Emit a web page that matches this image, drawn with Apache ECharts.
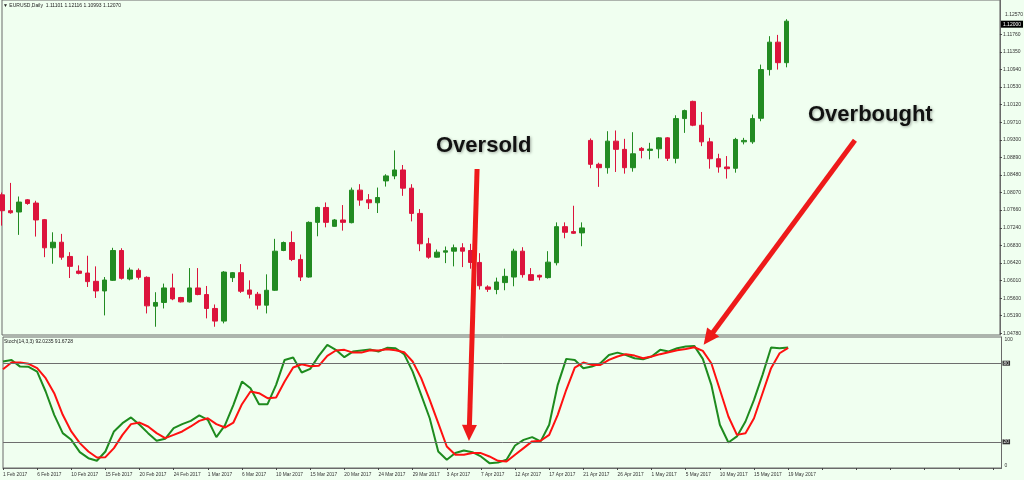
<!DOCTYPE html>
<html><head><meta charset="utf-8">
<script src="https://cdn.jsdelivr.net/npm/echarts@6/dist/echarts.min.js"></script>
<style>html,body{margin:0;padding:0;background:#F0FFF0}#c{width:1024px;height:480px}</style>
</head><body><div id="c"></div>
<script>
const symbolTitle = 'EURUSD,Daily';
const stochTitle = 'Stoch(14,3,3)';
// OHLC (index 0 = 1 Feb 2017, Sunday bars included)
const opens  = [1.08014,1.07643,1.07613,1.07898,1.07822,1.07434,1.06777,1.06907,1.06575,1.06233,
1.06187,1.05994,1.05769,1.06017,1.06714,1.06048,1.06250,1.06087,1.05414,1.05500,
1.05839,1.05616,1.05514,1.05839,1.05685,1.05360,1.05065,1.06080,1.06196,1.05792,
1.05692,1.05437,1.05785,1.06714,1.06900,1.06505,1.06094,1.07371,1.07719,1.07278,
1.07427,1.07364,1.08124,1.07898,1.07829,1.08339,1.08456,1.08595,1.08170,1.07580,
1.06870,1.06558,1.06675,1.06698,1.06777,1.06714,1.06435,1.05862,1.05802,1.05964,
1.06094,1.06698,1.06150,1.06134,1.06080,1.06428,1.07271,1.07155,1.07125,1.09285,
1.08727,1.08648,1.09268,1.09076,1.08648,1.09099,1.09052,1.09089,1.09345,1.08867,
1.09795,1.10197,1.09640,1.09252,1.08857,1.08665,1.08634,1.09252,1.09252,1.09802,
1.10940,1.11580,1.11101];
const highs  = [1.08068,1.08293,1.07975,1.07915,1.07875,1.07450,1.07139,1.07102,1.06675,1.06366,
1.06591,1.06343,1.06094,1.06777,1.06767,1.06312,1.06296,1.06110,1.05739,1.05941,
1.06173,1.05630,1.06303,1.06303,1.05885,1.05453,1.06233,1.06210,1.06396,1.06017,
1.05746,1.06157,1.06986,1.06923,1.07162,1.06621,1.07394,1.07736,1.07836,1.07450,
1.07775,1.08184,1.08263,1.08031,1.08184,1.08495,1.09052,1.08711,1.08263,1.07682,
1.07009,1.06737,1.06807,1.06853,1.06884,1.06870,1.06651,1.05901,1.06080,1.06289,
1.06754,1.06791,1.06303,1.06150,1.06698,1.07371,1.07371,1.07759,1.07371,1.09331,
1.08764,1.09500,1.09517,1.09322,1.09477,1.09129,1.09229,1.09361,1.09361,1.09872,
1.10004,1.10213,1.09949,1.09345,1.08973,1.08920,1.09345,1.09345,1.09888,1.11056,
1.11720,1.11750,1.12116];
const lows   = [1.07295,1.07573,1.07079,1.07782,1.07039,1.06558,1.06405,1.06498,1.06071,1.06157,
1.05862,1.05606,1.05198,1.06001,1.06034,1.06017,1.06034,1.05244,1.04933,1.05360,
1.05553,1.05500,1.05500,1.05669,1.05128,1.04933,1.05012,1.05978,1.05723,1.05593,
1.05337,1.05244,1.05769,1.06698,1.06466,1.06001,1.06080,1.07046,1.07255,1.07271,
1.07178,1.07348,1.07759,1.07682,1.07589,1.08207,1.08379,1.07991,1.07394,1.06698,
1.06521,1.06545,1.06419,1.06343,1.06326,1.06289,1.05802,1.05746,1.05692,1.05785,
1.05878,1.06080,1.06001,1.06017,1.06057,1.06366,1.06999,1.07102,1.06814,1.08634,
1.08200,1.08509,1.08548,1.08509,1.08555,1.08867,1.08843,1.08867,1.08804,1.08750,
1.09461,1.09617,1.09152,1.08625,1.08532,1.08393,1.08532,1.09192,1.09206,1.09733,
1.10800,1.10940,1.10993];
const closes = [1.07643,1.07596,1.07845,1.07812,1.07427,1.06777,1.06907,1.06558,1.06343,1.06180,
1.05987,1.05769,1.06024,1.06714,1.06064,1.06257,1.06087,1.05421,1.05500,1.05839,
1.05583,1.05514,1.05839,1.05685,1.05360,1.05065,1.06210,1.06196,1.05762,1.05692,
1.05437,1.05785,1.06698,1.06900,1.06505,1.06094,1.07371,1.07719,1.07371,1.07427,
1.07371,1.08124,1.07891,1.07829,1.07952,1.08456,1.08595,1.08170,1.07580,1.06870,
1.06558,1.06675,1.06707,1.06777,1.06698,1.06435,1.05890,1.05808,1.05978,1.06110,
1.06698,1.06150,1.06017,1.06094,1.06442,1.07271,1.07139,1.07116,1.07241,1.08727,
1.08648,1.09268,1.09076,1.08648,1.08973,1.09052,1.09082,1.09345,1.08867,1.09795,
1.09981,1.09640,1.09252,1.08857,1.08665,1.08625,1.09308,1.09285,1.09795,1.10940,
1.11580,1.11101,1.12070];
// Stochastic main (%K) and signal (%D)
const stochMain = [81.3,82.5,77.4,77.2,73.6,58.4,40.6,26.6,21.5,12.1,
7.5,5.5,12.6,27.9,34.2,38.6,33.0,26.6,20.8,22.3,
30.4,33.5,36.0,40.1,36.8,23.6,32.5,48.2,66.0,60.9,
48.7,48.7,63.5,82.5,84.3,72.9,75.7,85.6,94.0,90.2,
84.6,88.9,89.7,90.4,88.9,91.7,91.4,86.9,73.6,55.8,
38.0,12.6,6.3,11.4,13.4,12.1,8.8,3.7,4.2,6.3,
17.2,21.5,23.6,20.3,33.0,63.5,83.3,82.5,76.2,77.4,
80.0,86.3,88.1,86.3,83.8,83.0,85.1,90.2,88.9,91.4,
92.7,93.2,83.3,63.5,33.0,19.5,24.1,35.5,52.0,71.1,
92.0,91.4,92.0235];
const stochSignal = [75.4,80.5,80.5,79.5,76.2,68.6,57.1,40.6,27.9,19.0,
12.6,8.0,8.3,15.2,25.3,33.5,34.7,31.7,26.6,22.8,
25.3,27.9,31.7,36.0,38.0,33.5,30.9,34.7,48.7,58.4,
57.1,53.3,53.8,66.0,76.7,79.2,77.7,78.0,85.6,89.7,
90.2,88.1,88.1,89.9,89.7,90.7,89.9,88.4,81.3,68.6,
52.0,34.2,16.4,10.1,10.1,11.4,11.4,8.8,5.5,5.0,
10.1,15.2,20.3,20.8,25.3,40.6,59.7,76.7,80.5,78.7,
78.7,82.5,85.1,86.9,85.8,83.8,85.1,86.9,88.4,89.9,
90.9,92.2,89.4,80.0,59.7,39.3,25.3,26.6,38.0,57.1,
76.2,87.6,91.6728];
const priceTicks = [1.04780,1.05190,1.05600,1.06010,1.06420,1.06830,1.07240,1.07660,1.08070,
1.08480,1.08890,1.09300,1.09710,1.10120,1.10530,1.10940,1.11350,1.11760];
const priceTopLabel = 1.12570;
const stochLevels = [20, 80];
const stochBounds = [0, 100];
const annotations = [
  {text:'Oversold', left:436, cy:146, tail:[55.7, 1.08618], tip:[54.6, 20.7]},
  {text:'Overbought', left:808, cy:115, tail:[100.0, 1.09291], tip:[82.1, 94.0]}
];

const monthNames = ['Jan','Feb','Mar','Apr','May','Jun'];
const dates = [];
for (let t = Date.UTC(2017,1,1); t <= Date.UTC(2017,4,19); t += 86400000) {
  const d = new Date(t);
  if (d.getUTCDay() !== 6) dates.push(d.getUTCDate() + ' ' + monthNames[d.getUTCMonth()] + ' ' + d.getUTCFullYear());
}
const categories = dates.concat(new Array(25).fill(''));
const candles = opens.map((o, i) => [o, closes[i], lows[i], highs[i]]);

const GREEN = '#228B22', RED = '#DC143C', FRAME = '#6a6a6a';
const FONT = "'Liberation Sans', Arial, sans-serif";
const chart = echarts.init(document.getElementById('c'), null, {renderer:'canvas'});
const last = closes.length - 1;

chart.setOption({
  backgroundColor: '#F0FFF0',
  animation: false,
  grid: [
    {left:2, right:22.5, top:-2, height:337, show:true, borderColor:FRAME, borderWidth:1},
    {left:2, right:22.5, top:337, height:131, show:true, borderColor:FRAME, borderWidth:1}
  ],
  xAxis: [
    {type:'category', gridIndex:0, data:categories, boundaryGap:false,
     axisLine:{show:false}, axisTick:{show:false}, axisLabel:{show:false}, splitLine:{show:false}},
    {type:'category', gridIndex:1, data:categories, boundaryGap:false,
     axisLine:{show:true, lineStyle:{color:FRAME}},
     axisTick:{show:true, interval:3, length:2, lineStyle:{color:'#444'}},
     axisLabel:{interval:3, fontSize:4.8, color:'#333', align:'left', margin:4, fontFamily:FONT,
       formatter: v => v},
     splitLine:{show:false}}
  ],
  yAxis: [
    {type:'value', gridIndex:0, position:'right', min:1.04740, max:1.12565,
     axisLine:{show:true, lineStyle:{color:FRAME}},
     axisTick:{show:true, length:2, customValues:priceTicks, lineStyle:{color:'#444'}},
     axisLabel:{customValues:priceTicks, formatter: v => Number(v).toFixed(5), fontSize:5, color:'#333', margin:3, fontFamily:FONT},
     splitLine:{show:false}},
    {type:'value', gridIndex:1, position:'right', min:0, max:100,
     axisLine:{show:true, lineStyle:{color:FRAME}}, axisTick:{show:false},
     axisLabel:{customValues:stochLevels, fontSize:5, color:'#e0e0e0', backgroundColor:'#333', padding:[0,1], margin:1, fontFamily:FONT},
     splitLine:{show:false}},
    {type:'value', gridIndex:1, position:'right', min:0, max:100,
     axisLine:{show:false}, axisTick:{show:false},
     axisLabel:{customValues:[stochBounds[1]], verticalAlign:'top', fontSize:5, color:'#333', margin:3, fontFamily:FONT},
     splitLine:{show:false}},
    {type:'value', gridIndex:1, position:'right', min:0, max:100,
     axisLine:{show:false}, axisTick:{show:false},
     axisLabel:{customValues:[stochBounds[0]], verticalAlign:'bottom', fontSize:5, color:'#333', margin:3, fontFamily:FONT},
     splitLine:{show:false}}
  ],
  series: [
    {type:'candlestick', xAxisIndex:0, yAxisIndex:0, data:candles, barWidth:5,
     itemStyle:{color:GREEN, color0:RED, borderColor:GREEN, borderColor0:RED, borderWidth:1},
     markLine:{silent:true, symbol:'none', animation:false,
       lineStyle:{color:'rgba(0,0,0,0)', width:0},
       label:{show:true, position:'end', distance:1, formatter: p => Number(p.value).toFixed(5),
         backgroundColor:'#000', color:'#fff', fontSize:5, padding:[1,2], fontFamily:FONT},
       data:[{yAxis:closes[last]}]}},
    {type:'line', xAxisIndex:1, yAxisIndex:1, data:stochMain, symbol:'none', smooth:false,
     lineStyle:{color:'#1E8B1E', width:2}, z:3,
     markLine:{silent:true, symbol:'none', animation:false, label:{show:false},
       lineStyle:{color:'#6e6e6e', width:1, type:'solid'},
       data: stochLevels.map(v => ({yAxis:v}))}},
    {type:'line', xAxisIndex:1, yAxisIndex:1, data:stochSignal, symbol:'none', smooth:false,
     lineStyle:{color:'#FF1010', width:2}, z:4}
  ]
});

function toPx(gi, idx, val) {
  const finder = {xAxisIndex:gi, yAxisIndex:gi === 0 ? 0 : 1};
  const a = chart.convertToPixel(finder, [0, val]);
  const b = chart.convertToPixel(finder, [1, val]);
  return [a[0] + (b[0] - a[0]) * idx, a[1]];
}
function arrow(p0, p1, color) {
  const dx = p1[0]-p0[0], dy = p1[1]-p0[1];
  const L = Math.hypot(dx, dy), ux = dx/L, uy = dy/L;
  const headLen = 16, half = 7.5;
  const bx = p1[0]-ux*headLen, by = p1[1]-uy*headLen;
  return [
    {type:'line', z:100, shape:{x1:p0[0], y1:p0[1], x2:bx+ux*3, y2:by+uy*3}, style:{stroke:color, lineWidth:5}},
    {type:'polygon', z:100, shape:{points:[[p1[0],p1[1]],[bx-uy*half, by+ux*half],[bx+uy*half, by-ux*half]]}, style:{fill:color}}
  ];
}
const g = [];
g.push({type:'text', z:50, left:3, top:3, style:{text:'\u25BC ' + symbolTitle + '  ' + [opens[last], highs[last], lows[last], closes[last]].map(v => v.toFixed(5)).join(' '),
  fontSize:5, fill:'#222', fontFamily:FONT}});
g.push({type:'text', z:50, left:4, top:339, style:{text:stochTitle + ' ' + stochMain[last].toFixed(4) + ' ' + stochSignal[last].toFixed(4),
  fontSize:5, fill:'#222', fontFamily:FONT}});
g.push({type:'text', z:50, x:1005, y:14.7, style:{text:priceTopLabel.toFixed(5), fontSize:5, fill:'#333', fontFamily:FONT, verticalAlign:'middle'}});
annotations.forEach(a => {
  const p0 = toPx(0, a.tail[0], a.tail[1]);
  const p1 = toPx(1, a.tip[0], a.tip[1]);
  arrow(p0, p1, '#EE1A1A').forEach(e => g.push(e));
  g.push({type:'text', z:110, x:a.left, y:a.cy, style:{text:a.text, fontSize:22, fontWeight:'bold', fontFamily:FONT,
    fill:'#111', verticalAlign:'middle', textShadowColor:'rgba(0,0,0,0.35)', textShadowBlur:3, textShadowOffsetX:1, textShadowOffsetY:1}});
});
chart.setOption({graphic: g});
</script>
</body></html>
